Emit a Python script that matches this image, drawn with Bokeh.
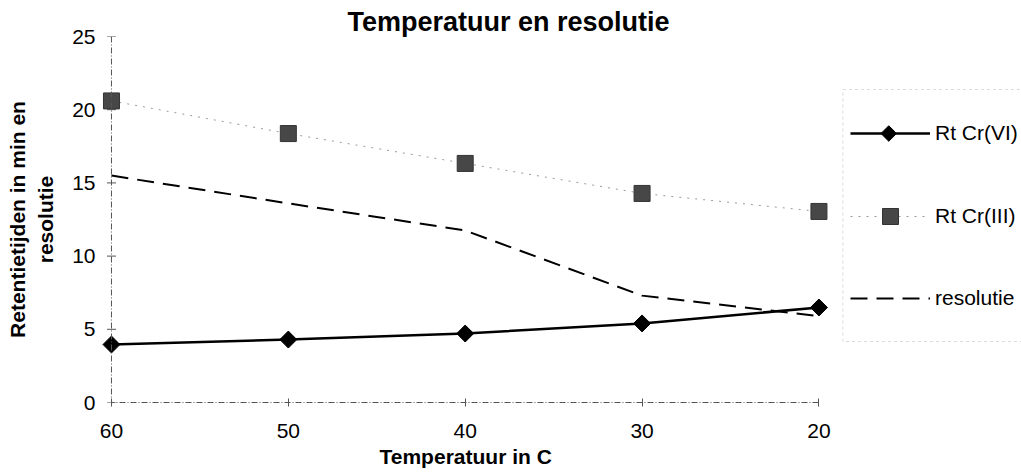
from bokeh.plotting import figure
from bokeh.models import (Range1d, FixedTicker, Legend, LegendItem, Title,
                          Span, BoxAnnotation)
from bokeh.embed import file_html
from bokeh.resources import INLINE
import math

# Temperature steps (degrees C) and measured values
temperatures = [60, 50, 40, 30, 20]
rt_cr_vi = [3.96, 4.3, 4.71, 5.4, 6.49]
rt_cr_iii = [20.6, 18.37, 16.33, 14.28, 13.05]
resolutie = [15.5, 13.6, 11.75, 7.3, 5.9]
y_ticks = [0, 5, 10, 15, 20, 25]

FONT = "Liberation Sans"
W, H = 1021, 476

# page geometry (pixels)
FRAME_LEFT, FRAME_TOP, FRAME_BOTTOM = 98, 36, 402
X60_PX, X20_PX = 109, 818           # where 60 and 20 degrees sit
px_per_deg = (X20_PX - X60_PX) / 40.0
x_start = 60 + (X60_PX - FRAME_LEFT) / px_per_deg
x_end = 60 - (W - X60_PX) / px_per_deg


def px_to_x(px):
    return 60 - (px - X60_PX) / px_per_deg


def px_to_y(py):
    return (FRAME_BOTTOM - py) * 25.0 / (FRAME_BOTTOM - FRAME_TOP)


p = figure(
    width=W, height=H,
    x_range=Range1d(x_start, x_end), y_range=Range1d(0, 25),
    output_backend="svg", toolbar_location=None,
    min_border_left=FRAME_LEFT, min_border_right=0,
    min_border_top=FRAME_TOP, min_border_bottom=H - FRAME_BOTTOM,
)
p.outline_line_color = None
p.xgrid.visible = False
p.ygrid.visible = False
p.background_fill_color = "white"
p.border_fill_color = "white"

# title
p.title.text = "Temperatuur en resolutie"
p.title.text_font = FONT
p.title.text_font_size = "27px"
p.title.text_font_style = "bold"
p.title.text_color = "black"
p.title.align = "left"
p.title.offset = 247
p.title.standoff = 0

AXIS_GREY = "#555555"
AXIS_DASH = "6 2 1 2"

for ax in (p.xaxis[0], p.yaxis[0]):
    ax.minor_tick_line_color = None
    ax.major_label_text_font = FONT
    ax.major_label_text_font_size = "21px"
    ax.major_label_text_color = "black"
    ax.axis_label_text_font = FONT
    ax.axis_label_text_font_size = "21px"
    ax.axis_label_text_font_style = "bold"
    ax.axis_label_text_color = "black"

# x axis: line runs from 60 to 20 only
p.xaxis.ticker = FixedTicker(ticks=temperatures)
p.xaxis.bounds = (20, 60)
p.xaxis.axis_line_color = AXIS_GREY
p.xaxis.axis_line_dash = AXIS_DASH
p.xaxis.major_tick_line_color = AXIS_GREY
p.xaxis.major_tick_in = 4
p.xaxis.major_tick_out = 4
p.xaxis.major_label_standoff = 17

# x axis title, centred under the 60..20 span
p.add_layout(Title(text="Temperatuur in C", align="left", offset=279,
                   text_font=FONT, text_font_size="21px",
                   text_font_style="bold", text_color="black",
                   standoff=5), "below")

# y axis: labels at the left, the axis line itself is drawn at 60 degrees
p.yaxis.ticker = FixedTicker(ticks=y_ticks)
p.yaxis.axis_line_color = None
p.yaxis.major_tick_line_color = None
p.yaxis.major_tick_in = 0
p.yaxis.major_tick_out = 0
p.yaxis.major_label_standoff = 5
p.yaxis.axis_label = "resolutie"
p.yaxis.axis_label_standoff = 12

p.add_layout(Title(text="Retentietijden in min en", align="center",
                   text_font=FONT, text_font_size="21px",
                   text_font_style="bold", text_color="black",
                   standoff=6), "left")

p.add_layout(Span(location=60, dimension="height", line_color=AXIS_GREY,
                  line_width=1, line_dash=AXIS_DASH))
p.scatter([60] * len(y_ticks), y_ticks, marker="dash", size=9,
          line_color=AXIS_GREY, line_width=1)

# series
l_vi = p.line(temperatures, rt_cr_vi, line_color="black", line_width=2.5)
s_vi = p.scatter(temperatures, rt_cr_vi, marker="square", angle=math.pi / 4,
                 size=12, fill_color="black", line_color="black")

l_iii = p.line(temperatures, rt_cr_iii, line_color="#9a9a9a", line_width=1,
               line_dash="2 6")
s_iii = p.scatter(temperatures, rt_cr_iii, marker="square", size=16,
                  fill_color="#474747", line_color="#333333")

l_res = p.line(temperatures, resolutie, line_color="black", line_width=2,
               line_dash="17 9")

# legend frame
p.add_layout(BoxAnnotation(left=px_to_x(842), right=x_end - 5,
                           top=px_to_y(89), bottom=px_to_y(341),
                           fill_alpha=0.0,
                           line_color="#888888", line_width=1,
                           line_dash="3 3", level="underlay"))

# legend entries, one per series
entries = [
    ("Rt Cr(VI)", [l_vi], 133, 24),
    ("Rt Cr(III)", [l_iii, s_iii], 216, 40),
    ("resolutie", [l_res], 298, 24),
]
for label, renderers, cy, gh in entries:
    lg = Legend(
        items=[LegendItem(label=label, renderers=renderers)],
        location=(848 - FRAME_LEFT, FRAME_BOTTOM - (cy + gh / 2.0)),
        glyph_width=80, glyph_height=gh, label_height=gh,
        label_standoff=5, spacing=0, padding=0, margin=0,
        label_text_font=FONT, label_text_font_size="21px",
        label_text_color="black",
        border_line_color=None, background_fill_alpha=0.0,
    )
    p.add_layout(lg, "center")

# diamond symbol on the Rt Cr(VI) legend line
p.scatter([px_to_x(888)], [px_to_y(133)], marker="square", angle=math.pi / 4,
          size=11, fill_color="black", line_color="black", level="overlay")

open("out.html", "w").write(file_html(p, INLINE))
